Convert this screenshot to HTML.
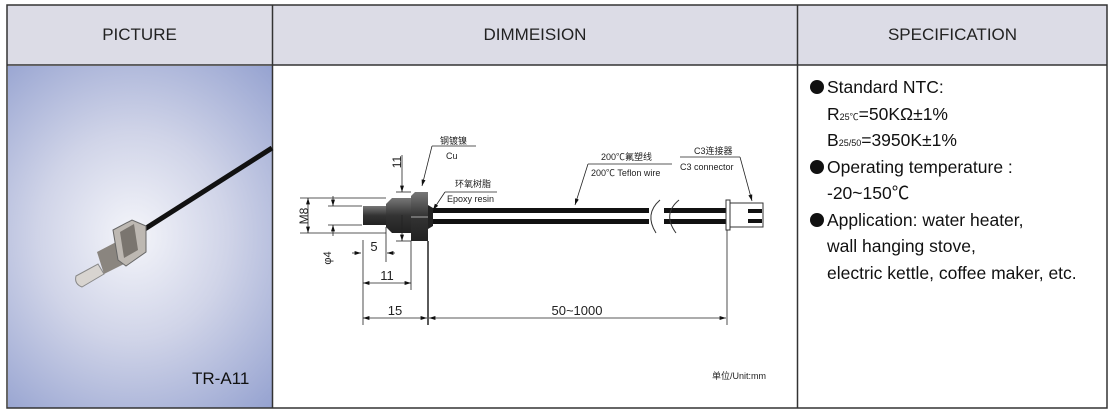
<!DOCTYPE html>
<html><head><meta charset="utf-8"><style>
body{margin:0;background:#fff;width:1114px;height:411px;overflow:hidden;font-family:"Liberation Sans","Noto Sans CJK SC",sans-serif;}
.a{position:absolute;}
.hd{position:absolute;top:5px;height:60px;background:#dcdce6;color:#222;font-size:17px;line-height:60px;text-align:center;}
.sp{position:absolute;left:827px;font-size:17.5px;color:#111;white-space:nowrap;line-height:20px;}
.b{position:absolute;left:-17px;top:3px;width:14px;height:14px;border-radius:50%;background:#111;}
</style></head><body>
<div class="hd" style="left:7px;width:265px">PICTURE</div>
<div class="hd" style="left:273px;width:524px">DIMMEISION</div>
<div class="hd" style="left:798px;width:309px">SPECIFICATION</div>
<div class="a" style="left:8px;top:66px;width:264px;height:342px;background:radial-gradient(ellipse 210px 230px at 125px 170px,#f4f5fa 0%,#d0d4e8 45%,#95a2d0 100%)"></div>
<svg class="a" style="left:0;top:0" width="1114" height="411">
<g stroke="#333" fill="none">
<rect x="7" y="5" width="1100" height="403" stroke-width="1.5"/>
<line x1="7" y1="65" x2="1107" y2="65" stroke-width="1.5"/>
<line x1="272.5" y1="5" x2="272.5" y2="408" stroke-width="1.5"/>
<line x1="797.5" y1="5" x2="797.5" y2="408" stroke-width="1.5"/>
</g>
<!-- photo -->
<line x1="140" y1="232" x2="272" y2="148" stroke="#111" stroke-width="5"/>
<path d="M76 276 L98 264 L104 274 L82 287 Q74 284 76 276Z" fill="#d8d4d0" stroke="#888" stroke-width="1"/>
<path d="M97 252 L120 240 L128 262 L104 274 Z" fill="#8a857f"/>
<path d="M113 230 L132 220 L146 226 L146 252 L126 266 L118 260 Z" fill="#bdb8b2" stroke="#666"/>
<path d="M120 232 L134 224 L138 250 L124 258Z" fill="#7a756f"/>
<!-- diagram -->
<defs><linearGradient id="g" x1="0" y1="0" x2="0" y2="1"><stop offset="0" stop-color="#777"/><stop offset=".5" stop-color="#333"/><stop offset="1" stop-color="#222"/></linearGradient>
<marker id="ar" markerWidth="8" markerHeight="6" refX="8" refY="3" orient="auto"><path d="M0 0.5L8 3L0 5.5Z" fill="#111"/></marker></defs>
<rect x="363" y="206" width="23" height="19" fill="url(#g)"/>
<path d="M386 204 L392 198 L411 198 L411 233 L392 233 L386 227Z" fill="url(#g)"/>
<path d="M411 196 L415 192 L428 192 L428 241 L411 241Z" fill="url(#g)"/>
<line x1="411" y1="217" x2="428" y2="217" stroke="#aaa"/>
<path d="M428 205 L433 208 L433 226 L428 229Z" fill="#222"/>
<rect x="433" y="208" width="216" height="5" fill="#111"/>
<rect x="433" y="219" width="216" height="5" fill="#111"/>
<rect x="664" y="208" width="62" height="5" fill="#111"/>
<rect x="664" y="219" width="62" height="5" fill="#111"/>
<g stroke="#333" fill="none" stroke-width="1">
<path d="M660 200 Q644 214 656 233"/><path d="M679 200 Q662 214 676 233"/>
<rect x="726" y="200" width="4" height="30"/><rect x="730" y="203" width="33" height="24"/>
</g>
<rect x="748" y="209" width="14" height="4" fill="#111"/><rect x="748" y="219" width="14" height="4" fill="#111"/>
<g stroke="#222" stroke-width="0.8" fill="none">
<line x1="300" y1="198" x2="386" y2="198"/><line x1="300" y1="233" x2="386" y2="233"/>
<line x1="308" y1="215" x2="308" y2="198" marker-end="url(#ar)"/><line x1="308" y1="215" x2="308" y2="233" marker-end="url(#ar)"/>
<line x1="328" y1="206" x2="362" y2="206"/><line x1="328" y1="225" x2="362" y2="225"/>
<line x1="333" y1="196" x2="333" y2="206" marker-end="url(#ar)"/><line x1="333" y1="236" x2="333" y2="225" marker-end="url(#ar)"/>
<line x1="402" y1="155" x2="402" y2="192" marker-end="url(#ar)"/><line x1="402" y1="215" x2="402" y2="241" marker-end="url(#ar)"/>
<line x1="396" y1="192" x2="411" y2="192"/><line x1="396" y1="241" x2="411" y2="241"/>
<line x1="352" y1="253" x2="361" y2="253" marker-end="url(#ar)"/><line x1="395" y1="253" x2="387" y2="253" marker-end="url(#ar)"/>
<line x1="363" y1="240" x2="363" y2="325"/><line x1="386" y1="227" x2="386" y2="262"/>
<line x1="411" y1="241" x2="411" y2="290"/>
<line x1="428" y1="241" x2="428" y2="325" stroke-width="1.5"/><line x1="727" y1="230" x2="727" y2="325"/>
<line x1="387" y1="283" x2="363" y2="283" marker-end="url(#ar)"/><line x1="387" y1="283" x2="411" y2="283" marker-end="url(#ar)"/>
<line x1="395" y1="318" x2="363" y2="318" marker-end="url(#ar)"/><line x1="395" y1="318" x2="427" y2="318" marker-end="url(#ar)"/>
<line x1="575" y1="318" x2="429" y2="318" marker-end="url(#ar)"/><line x1="575" y1="318" x2="726" y2="318" marker-end="url(#ar)"/>
<line x1="432" y1="146" x2="476" y2="146"/><line x1="432" y1="146" x2="422" y2="186" marker-end="url(#ar)"/>
<line x1="445" y1="192" x2="497" y2="192"/><line x1="445" y1="192" x2="433" y2="210" marker-end="url(#ar)"/>
<line x1="588" y1="164" x2="672" y2="164"/><line x1="588" y1="164" x2="575" y2="205" marker-end="url(#ar)"/>
<line x1="680" y1="157" x2="740" y2="157"/><line x1="740" y1="157" x2="752" y2="201" marker-end="url(#ar)"/>
</g>
<g font-family="Liberation Sans,Noto Sans CJK SC,sans-serif" fill="#222">
<text x="304" y="216" font-size="12" text-anchor="middle" transform="rotate(-90 304 216)" dy="4">M8</text>
<text x="327" y="258" font-size="11" text-anchor="middle" transform="rotate(-90 327 258)" dy="4">φ4</text>
<text x="397" y="162" font-size="12" text-anchor="middle" transform="rotate(-90 397 162)" dy="4">11</text>
<text x="374" y="251" font-size="13" text-anchor="middle">5</text>
<text x="387" y="280" font-size="13" text-anchor="middle">11</text>
<text x="395" y="315" font-size="13" text-anchor="middle">15</text>
<text x="577" y="315" font-size="13" text-anchor="middle">50~1000</text>
<text x="440" y="144" font-size="9">钢镀镍</text><text x="446" y="159" font-size="9">Cu</text>
<text x="455" y="187" font-size="9">环氧树脂</text><text x="447" y="202" font-size="9">Epoxy resin</text>
<text x="601" y="160" font-size="9">200℃氟塑线</text><text x="591" y="176" font-size="9">200℃ Teflon wire</text>
<text x="694" y="154" font-size="9">C3连接器</text><text x="680" y="170" font-size="9">C3 connector</text>
<text x="712" y="379" font-size="9">单位/Unit:mm</text>
<text x="192" y="384" font-size="17" fill="#111">TR-A11</text>
</g>
</svg>
<div class="sp" style="top:77px"><span class="b"></span>Standard NTC:</div>
<div class="sp" style="top:104px">R<span style="font-size:9px">25℃</span>=50KΩ±1%</div>
<div class="sp" style="top:130px">B<span style="font-size:9px">25/50</span>=3950K±1%</div>
<div class="sp" style="top:157px"><span class="b"></span>Operating temperature :</div>
<div class="sp" style="top:183px">-20~150℃</div>
<div class="sp" style="top:210px"><span class="b"></span>Application: water heater,</div>
<div class="sp" style="top:236px">wall hanging stove,</div>
<div class="sp" style="top:263px">electric kettle, coffee maker, etc.</div>
</body></html>
